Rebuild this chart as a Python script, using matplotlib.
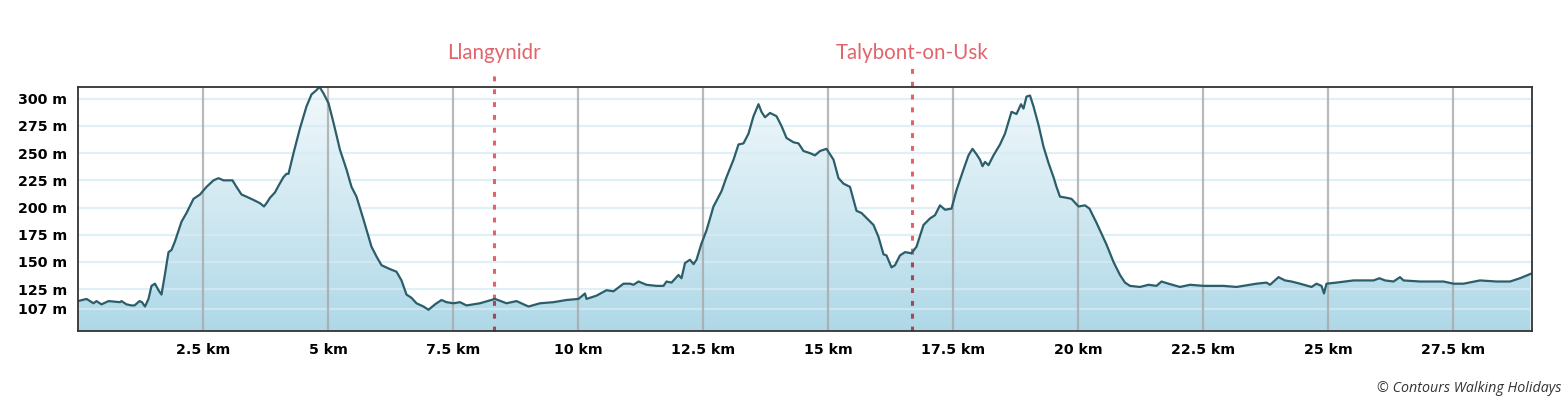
import numpy as np
import matplotlib
matplotlib.use("Agg")
import matplotlib.pyplot as plt
from matplotlib.colors import LinearSegmentedColormap

# ---- data ----
distance_km = [
    0.00, 0.17, 0.31, 0.37, 0.47, 0.61, 0.84, 0.87, 0.97, 1.07, 1.13, 1.23, 1.28, 1.34,
    1.41, 1.47, 1.54, 1.61, 1.67, 1.74, 1.81, 1.87, 1.94, 2.07, 2.17, 2.31, 2.44, 2.57,
    2.71, 2.81, 2.91, 3.01, 3.09, 3.17, 3.27, 3.37, 3.51, 3.64, 3.72, 3.77, 3.84, 3.94,
    4.01, 4.11, 4.17, 4.21, 4.31, 4.44, 4.57, 4.67, 4.77, 4.83, 4.91, 5.01, 5.11, 5.24,
    5.37, 5.47, 5.57, 5.71, 5.87, 5.97, 6.07, 6.21, 6.37, 6.47, 6.57, 6.67, 6.77, 6.91,
    7.01, 7.14, 7.27, 7.37, 7.51, 7.64, 7.77, 8.04, 8.34, 8.57, 8.77, 9.01, 9.24, 9.51,
    9.77, 10.01, 10.14, 10.17, 10.37, 10.57, 10.71, 10.91, 11.04, 11.11, 11.21, 11.37,
    11.57, 11.71, 11.77, 11.87, 12.01, 12.07, 12.14, 12.24, 12.31, 12.37, 12.47, 12.57,
    12.71, 12.87, 12.97, 13.11, 13.21, 13.31, 13.41, 13.51, 13.61, 13.67, 13.74, 13.84,
    13.97, 14.07, 14.17, 14.31, 14.41, 14.51, 14.64, 14.74, 14.84, 14.97, 15.11, 15.21,
    15.31, 15.44, 15.57, 15.67, 15.91, 16.01, 16.11, 16.17, 16.27, 16.34, 16.44, 16.54,
    16.67, 16.77, 16.91, 17.04, 17.14, 17.24, 17.34, 17.47, 17.57, 17.71, 17.81, 17.89,
    17.97, 18.04, 18.09, 18.14, 18.21, 18.31, 18.44, 18.54, 18.67, 18.77, 18.86, 18.91,
    18.97, 19.04, 19.11, 19.21, 19.31, 19.41, 19.51, 19.57, 19.64, 19.77, 19.87, 20.01,
    20.14, 20.23, 20.37, 20.57, 20.71, 20.84, 20.94, 21.04, 21.24, 21.41, 21.57, 21.67,
    21.81, 22.04, 22.24, 22.51, 22.91, 23.17, 23.57, 23.77, 23.84, 24.01, 24.14, 24.27,
    24.44, 24.67, 24.77, 24.87, 24.92, 24.97, 25.17, 25.51, 25.91, 26.03, 26.14, 26.31,
    26.44, 26.51, 26.84, 27.31, 27.51, 27.71, 28.04, 28.37, 28.64, 28.84, 29.05]
elevation_m = [
    114, 116, 112, 114, 111, 114, 113, 114, 111, 110, 110, 114, 113, 109,
    116, 128, 130, 124, 120, 139, 159, 161, 169, 187, 195, 208, 212, 219,
    225, 227, 225, 225, 225, 219, 212, 210, 207, 204, 201, 204, 209, 214,
    220, 228, 231, 231, 250, 273, 293, 304, 308, 311, 305, 296, 278, 253,
    235, 219, 210, 189, 164, 155, 147, 144, 141, 133, 120, 117, 112, 109,
    106, 111, 115, 113, 112, 113, 110, 112, 116, 112, 114, 109, 112, 113,
    115, 116, 121, 116, 119, 124, 123, 130, 130, 129, 132, 129,
    128, 128, 132, 131, 138, 135, 149, 152, 148, 152, 167, 179,
    201, 215, 228, 244, 258, 259, 268, 284, 295, 288, 283, 287,
    284, 275, 264, 260, 259, 252, 250, 248, 252, 254, 244, 227,
    222, 219, 197, 195, 184, 173, 157, 156, 145, 147, 156, 159,
    158, 164, 184, 190, 193, 202, 198, 199, 216, 235, 248, 254,
    249, 244, 238, 242, 239, 248, 258, 268, 288, 286, 295, 291,
    302, 303, 293, 276, 256, 241, 228, 219, 210, 209, 208, 201,
    202, 199, 186, 166, 150, 138, 131, 128, 127, 129, 128, 132,
    130, 127, 129, 128, 128, 127, 130, 131, 129, 136, 133, 132,
    130, 127, 130, 128, 121, 130, 131, 133, 133, 135, 133, 132,
    136, 133, 132, 132, 130, 130, 133, 132, 132, 135, 139]

x_ticks = [2.5, 5, 7.5, 10, 12.5, 15, 17.5, 20, 22.5, 25, 27.5]
x_labels = ["2.5 km", "5 km", "7.5 km", "10 km", "12.5 km", "15 km",
            "17.5 km", "20 km", "22.5 km", "25 km", "27.5 km"]
y_ticks = [107, 125, 150, 175, 200, 225, 250, 275, 300]
y_labels = ["107 m", "125 m", "150 m", "175 m", "200 m", "225 m", "250 m", "275 m", "300 m"]
waypoints = ["Llangynidr", "Talybont-on-Usk"]
waypoint_km = [8.32, 16.68]

# ---- figure ----
W, H = 1564, 403
fig = plt.figure(figsize=(W / 100, H / 100), dpi=100)
ax = fig.add_axes([78 / W, (H - 331) / H, (1532 - 78) / W, (331 - 86.5) / H])
xmin, xmax = 0, 29.08
ymin, ymax = 86.5, 311.3
ax.set_xlim(xmin, xmax)
ax.set_ylim(ymin, ymax)

x = np.array(distance_km)
y = np.array(elevation_m)

# gradient fill
poly = ax.fill_between(x, y, ymin, color="none", lw=0, zorder=1)
cmap = LinearSegmentedColormap.from_list("g", ["#afd8e7", "#f2f9fc"])
grad = np.linspace(0, 1, 256).reshape(-1, 1)
im = ax.imshow(grad, extent=[xmin, xmax, ymin, ymax], origin="lower",
               aspect="auto", cmap=cmap, zorder=1, interpolation="bicubic")
path = poly.get_paths()[0]
im.set_clip_path(path, transform=ax.transData)

# grid on top of fill (semi transparent)
for yt in y_ticks:
    ax.axhline(yt, color="#d6ebf5", lw=1.6, alpha=0.75, zorder=2)
for xt in x_ticks:
    ax.axvline(xt, color="#a8a8a8", lw=1.6, alpha=0.8, zorder=2)

# waypoint lines
dash = (0, (1.6, 2.6))
for name, km in zip(waypoints, waypoint_km):
    yp = np.interp(km, x, y)
    ax.plot([km, km], [yp, ymax + 17], color="#e2646b", lw=2.2,
            ls=dash, zorder=3, clip_on=False)
    ax.plot([km, km], [ymin, yp], color="#a5465a", lw=2.2,
            ls=dash, zorder=3, clip_on=False)
    ax.text(km, ymax + 31, name, ha="center", va="center", color="#e2646b",
            fontsize=14.8, family="Lato", fontweight="normal", clip_on=False)

ax.plot(x, y, color="#2b5e6a", lw=1.6, zorder=4)

ax.set_xticks(x_ticks)
ax.set_xticklabels(x_labels)
ax.set_yticks(y_ticks)
ax.set_yticklabels(y_labels)
ax.tick_params(length=0)
ax.tick_params(axis="x", pad=9)
ax.tick_params(axis="y", pad=8)
for lab in ax.get_xticklabels() + ax.get_yticklabels():
    lab.set_fontweight("bold")
    lab.set_fontsize(10.2)
    lab.set_color("#000000")

for s in ax.spines.values():
    s.set_color("#333333")
    s.set_linewidth(1.3)
    s.set_zorder(5)

fig.text(1561 / W, 1 - 388 / H, "\u00a9 Contours Walking Holidays", ha="right",
         va="center", fontsize=10.3, style="italic", family="Open Sans", color="#333333")

fig.savefig("out.png", dpi=100)
